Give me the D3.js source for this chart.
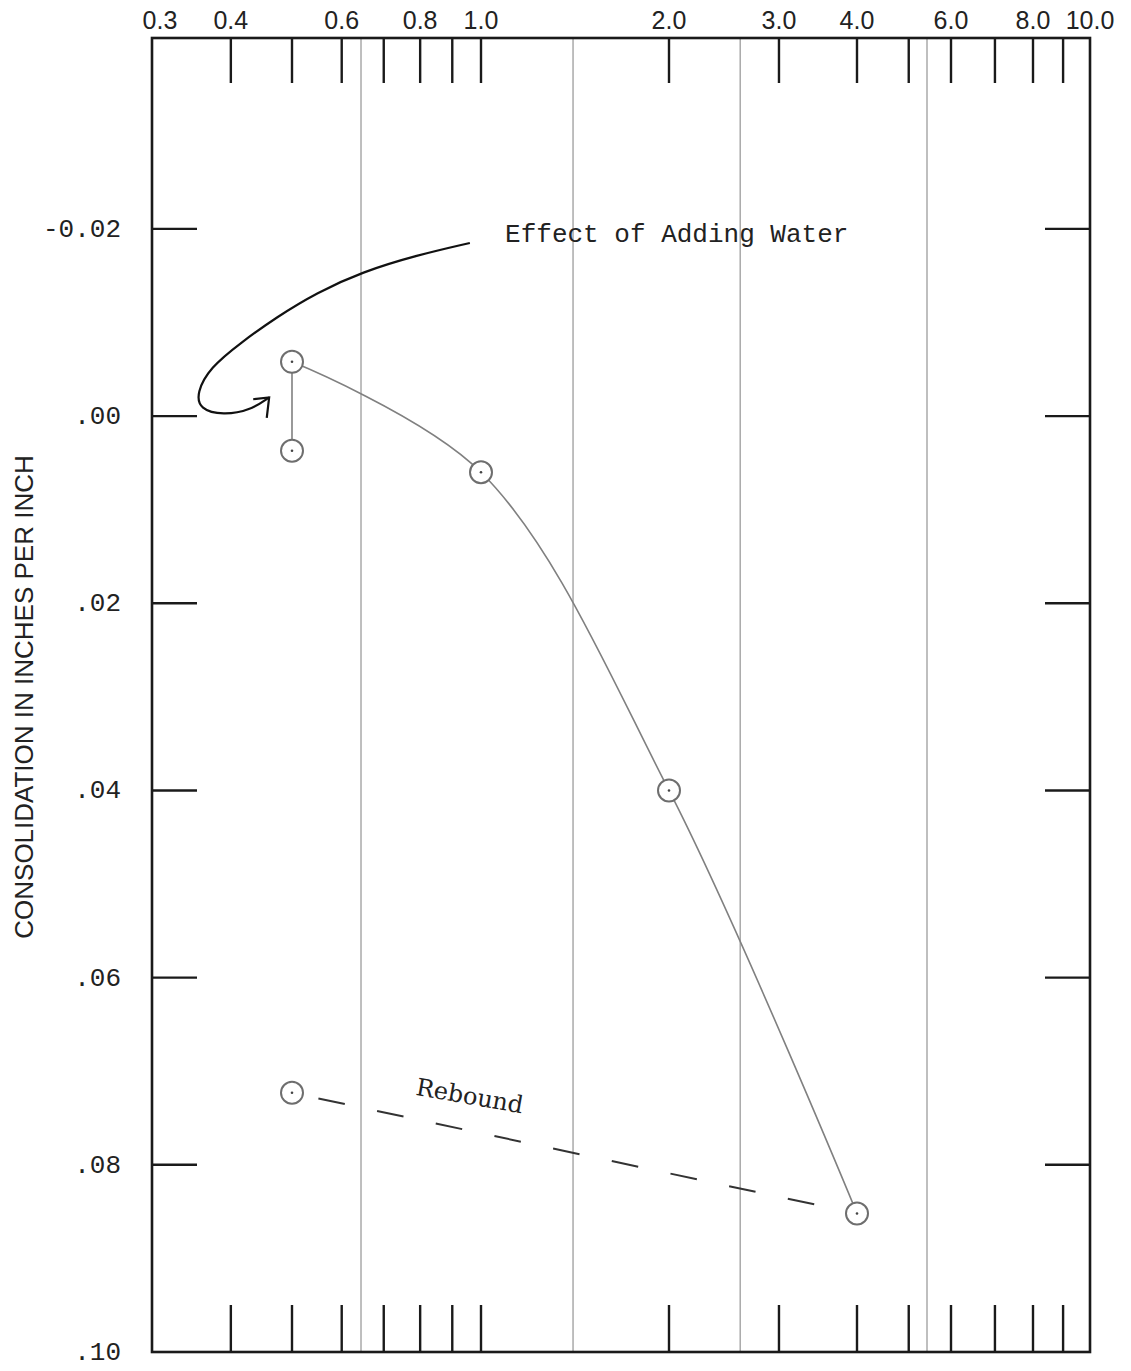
<!DOCTYPE html>
<html>
<head>
<meta charset="utf-8">
<script src="https://cdn.jsdelivr.net/npm/d3@7"></script>
<style>
	body { margin: 0; background: #fff; }
	svg { display: block; }
	.tick-label { font-family: "Liberation Sans", Arial, sans-serif; font-size: 25px; fill: #222; }
	.y-label { font-family: "Liberation Mono", monospace; font-size: 26px; fill: #222; }
	.note { font-family: "Liberation Mono", monospace; font-size: 26px; fill: #222; }
	.rebound { font-family: "DejaVu Serif", serif; font-size: 24px; fill: #222; }
	.axis-title { font-family: "Liberation Sans", Arial, sans-serif; font-size: 26px; fill: #222; }
</style>
</head>
<body>
<div class="chart"></div>
<script>
// load in kg/cm2 (log paper), consolidation in inches per inch
var x_ticks = [0.4, 0.5, 0.6, 0.7, 0.8, 0.9, 1.0, 2.0, 3.0, 4.0, 5.0, 6.0, 7.0, 8.0, 9.0];
var x_labels = [0.3, 0.4, 0.6, 0.8, 1.0, 2.0, 3.0, 4.0, 6.0, 8.0, 10.0];
var x_grid = [0.644, 1.404, 2.60, 5.41];

var y_ticks = [-0.02, 0.00, 0.02, 0.04, 0.06, 0.08];
var y_labels = ["-0.02", ".00", ".02", ".04", ".06", ".08", ".10"];
var y_label_vals = [-0.02, 0.00, 0.02, 0.04, 0.06, 0.08, 0.10];

// loading curve
var load_x = [0.5, 1.0, 2.0, 4.0];
var load_y = [-0.0058, 0.0060, 0.0400, 0.0852];

// before adding water (same load)
var dry_x = [0.5];
var dry_y = [0.0037];

// rebound
var rebound_x = [0.5, 4.0];
var rebound_y = [0.0723, 0.0852];

// hand drawn arrow for the note
var arrow_x = [0.960, 0.791, 0.646, 0.548, 0.473, 0.414, 0.371, 0.353, 0.357, 0.389, 0.429, 0.460];
var arrow_y = [-0.0185, -0.0172, -0.0154, -0.0132, -0.0106, -0.0078, -0.0052, -0.0025, -0.0007, -0.0001, -0.0006, -0.0020];
var head_x = [0.434, 0.460, 0.456];
var head_y = [-0.0018, -0.0020, 0.0002];

var width = 1131, height = 1371;

var svg = d3.select(".chart").append("svg")
	.attr("width", width)
	.attr("height", height);

// the printed log paper is not quite even, so the scale is pinned at a few knots
var x = d3.scaleLog()
	.domain([0.3, 0.5, 1, 2, 4, 6, 8, 10])
	.range([152, 292, 481, 669, 857, 951, 1033, 1090]);

var y = d3.scaleLinear()
	.domain([-0.0404, 0.10])
	.range([38, 1352]);

var x0 = x(0.3), x1 = x(10), y0 = y(-0.0404), y1 = y(0.10);

// grid lines
svg.selectAll(".grid")
	.data(x_grid)
	.enter().append("line")
		.attr("class", "grid")
		.attr("x1", function(d){ return x(d); })
		.attr("x2", function(d){ return x(d); })
		.attr("y1", y0)
		.attr("y2", y1)
		.style("stroke", "#8a8a8a")
		.style("stroke-width", 1.1);

// top and bottom ticks
[[y0, y0 + 45], [y1 - 47, y1]].forEach(function(r){
	svg.append("g").selectAll("line")
		.data(x_ticks)
		.enter().append("line")
			.attr("x1", function(d){ return x(d); })
			.attr("x2", function(d){ return x(d); })
			.attr("y1", r[0])
			.attr("y2", r[1])
			.style("stroke", "#1a1a1a")
			.style("stroke-width", 2.4);
});

// left and right ticks
[[x0, x0 + 45], [x1 - 45, x1]].forEach(function(r){
	svg.append("g").selectAll("line")
		.data(y_ticks)
		.enter().append("line")
			.attr("x1", r[0])
			.attr("x2", r[1])
			.attr("y1", function(d){ return y(d); })
			.attr("y2", function(d){ return y(d); })
			.style("stroke", "#1a1a1a")
			.style("stroke-width", 2.4);
});

// frame
svg.append("rect")
	.attr("x", x0)
	.attr("y", y0)
	.attr("width", x1 - x0)
	.attr("height", y1 - y0)
	.style("fill", "none")
	.style("stroke", "#1a1a1a")
	.style("stroke-width", 2.6);

// top labels
svg.selectAll(".tick-label")
	.data(x_labels)
	.enter().append("text")
		.attr("class", "tick-label")
		.attr("x", function(d){ return x(d); })
		.attr("dx", function(d, i){ return i == 0 ? 8 : 0; })
		.attr("y", 29)
		.attr("text-anchor", "middle")
		.text(function(d){ return d.toFixed(1); });

// left labels
svg.selectAll(".y-label")
	.data(y_labels)
	.enter().append("text")
		.attr("class", "y-label")
		.attr("x", 121)
		.attr("y", function(d, i){ return y(y_label_vals[i]) + (i == y_labels.length - 1 ? 8 : 8); })
		.attr("text-anchor", "end")
		.text(function(d){ return d; });

svg.append("text")
	.attr("class", "axis-title")
	.attr("transform", "translate(33, 697) rotate(-90)")
	.attr("text-anchor", "middle")
	.text("CONSOLIDATION IN INCHES PER INCH");

// rebound, dashed
var rebound = rebound_x.map(function(d, i){ return [x(d), y(rebound_y[i])]; });
svg.append("path")
	.attr("d", d3.line()(rebound))
	.style("fill", "none")
	.style("stroke", "#333")
	.style("stroke-width", 2)
	.style("stroke-dasharray", "27,33")
	.style("stroke-dashoffset", 33);

// water effect, vertical drop
svg.append("line")
	.attr("x1", x(dry_x[0]))
	.attr("x2", x(load_x[0]))
	.attr("y1", y(dry_y[0]))
	.attr("y2", y(load_y[0]))
	.style("stroke", "#808080")
	.style("stroke-width", 1.6);

// loading curve
var load = load_x.map(function(d, i){ return [x(d), y(load_y[i])]; });
svg.append("path")
	.attr("d", d3.line().curve(d3.curveCatmullRom.alpha(0.5))(load))
	.style("fill", "none")
	.style("stroke", "#808080")
	.style("stroke-width", 1.6);

// points
var pts = load.concat(dry_x.map(function(d, i){ return [x(d), y(dry_y[i])]; }))
	.concat([rebound[0]]);

svg.selectAll(".pt")
	.data(pts)
	.enter().append("circle")
		.attr("class", "pt")
		.attr("cx", function(d){ return d[0]; })
		.attr("cy", function(d){ return d[1]; })
		.attr("r", 11)
		.style("fill", "#fff")
		.style("stroke", "#6e6e6e")
		.style("stroke-width", 2);

svg.selectAll(".dot")
	.data(pts)
	.enter().append("circle")
		.attr("class", "dot")
		.attr("cx", function(d){ return d[0]; })
		.attr("cy", function(d){ return d[1]; })
		.attr("r", 1.3)
		.style("fill", "#444");

// note arrow
var arrow = arrow_x.map(function(d, i){ return [x(d), y(arrow_y[i])]; });
svg.append("path")
	.attr("d", d3.line().curve(d3.curveBasis)(arrow))
	.style("fill", "none")
	.style("stroke", "#111")
	.style("stroke-width", 2.2);

var head = head_x.map(function(d, i){ return [x(d), y(head_y[i])]; });
svg.append("path")
	.attr("d", d3.line()(head))
	.style("fill", "none")
	.style("stroke", "#111")
	.style("stroke-width", 2.2);

svg.append("text")
	.attr("class", "note")
	.attr("x", x(1.093))
	.attr("y", y(-0.0186))
	.text("Effect of Adding Water");

svg.append("text")
	.attr("class", "rebound")
	.attr("transform", "translate(" + x(0.785) + ", " + y(0.0725) + ") rotate(10)")
	.text("Rebound");
</script>
</body>
</html>
